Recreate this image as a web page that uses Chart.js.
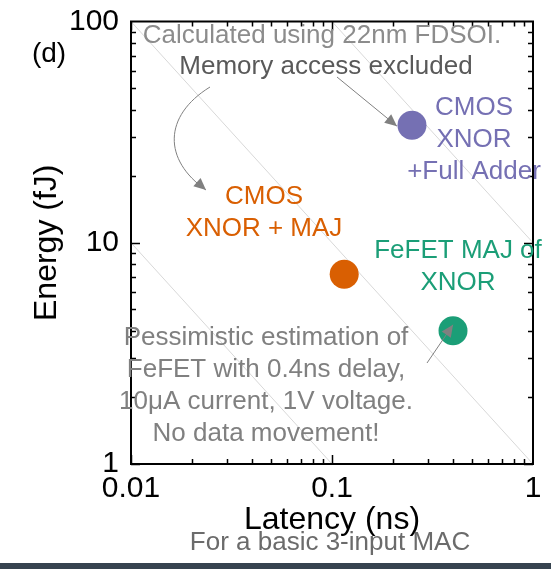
<!DOCTYPE html>
<html>
<head>
<meta charset="utf-8">
<script src="https://cdn.jsdelivr.net/npm/chart.js@4/dist/chart.umd.min.js"></script>
<style>
  html, body { margin: 0; padding: 0; background: #fff; }
  #wrap { position: relative; width: 551px; height: 569px; overflow: hidden; background: #fff; }
  #bar { position: absolute; left: 0; right: 0; bottom: 0; height: 6px; background: #36434f; }
</style>
</head>
<body>
<div id="wrap">
  <canvas id="c" width="551" height="569"></canvas>
  <div id="bar"></div>
</div>
<script>
// Latency / energy of a basic 3-input MAC for each design
const designNames = ['CMOS XNOR +Full Adder', 'CMOS XNOR + MAJ', 'FeFET MAJ of XNOR'];
const latencyNs = [0.25, 0.115, 0.4];
const energyFJ = [34, 7.2, 4.0];
const designColors = ['#7570b3', '#d95f02', '#1b9e77'];

// Axis ticks
const xTickValues = [0.01, 0.1, 1];
const xTickLabels = ['0.01', '0.1', '1'];
const yTickValues = [1, 10, 100];
const yTickLabels = ['1', '10', '100'];

// Constant energy-delay-product guide lines (endpoints)
const guideLatency = [[0.01, 0.1], [0.01, 1], [0.1, 1]];
const guideEnergy = [[10, 1], [100, 1], [100, 10]];

const FONT = "'Liberation Sans', Arial, Helvetica, sans-serif";

const guideSets = guideLatency.map((xs, i) => ({
  type: 'line',
  data: xs.map((x, j) => ({ x: x, y: guideEnergy[i][j] })),
  borderColor: '#d8d8d8',
  borderWidth: 1,
  pointRadius: 0,
  showLine: true,
  order: 2
}));

const pointSet = {
  type: 'scatter',
  label: 'designs',
  data: latencyNs.map((x, i) => ({ x: x, y: energyFJ[i] })),
  pointRadius: 14.5,
  pointHoverRadius: 14.5,
  pointBackgroundColor: designColors,
  pointBorderWidth: 0,
  borderWidth: 0,
  order: 1
};

// Text blocks and arrows drawn on top of the plot
const textBlocks = [
  { lines: ['Calculated using 22nm FDSOI.'], x: 322, y: 43, color: '#8c8c8c', size: 26 },
  { lines: ['Memory access excluded'], x: 326, y: 74, color: '#595959', size: 26 },
  { lines: ['CMOS', 'XNOR', '+Full Adder'], x: 474, y: 115, color: '#7570b3', size: 26 },
  { lines: ['CMOS', 'XNOR + MAJ'], x: 264, y: 204, color: '#d95f02', size: 26 },
  { lines: ['FeFET MAJ of', 'XNOR'], x: 458, y: 258, color: '#1b9e77', size: 26 },
  { lines: ['Pessimistic estimation of', 'FeFET with 0.4ns delay,', '10\u03bcA current, 1V voltage.', 'No data movement!'], x: 266, y: 345, color: '#808080', size: 26 },
  { lines: ['(d)'], x: 49, y: 62, color: '#000', size: 28 },
  { lines: ['For a basic 3-input MAC'], x: 330, y: 550, color: '#6b6b6b', size: 26 }
];

function arrowHead(ctx, tipX, tipY, fromX, fromY) {
  const a = Math.atan2(tipY - fromY, tipX - fromX);
  const len = 12, half = 5.5;
  ctx.beginPath();
  ctx.moveTo(tipX, tipY);
  ctx.lineTo(tipX - len * Math.cos(a) + half * Math.sin(a), tipY - len * Math.sin(a) - half * Math.cos(a));
  ctx.lineTo(tipX - len * Math.cos(a) - half * Math.sin(a), tipY - len * Math.sin(a) + half * Math.cos(a));
  ctx.closePath();
  ctx.fill();
}

const decorate = {
  id: 'decorate',
  afterDatasetsDraw(chart) {
    const { ctx, chartArea: ca, scales } = chart;
    const xs = scales.x, ys = scales.y;
    ctx.save();

    // inward ticks on all four sides
    ctx.strokeStyle = '#000';
    ctx.lineWidth = 1.5;
    ctx.beginPath();
    for (let d = -2; d < 0; d++) {
      for (let k = 1; k <= 9; k++) {
        const v = k * Math.pow(10, d);
        const px = Math.round(xs.getPixelForValue(v)) + 0.5;
        const L = k === 1 ? 9 : 5;
        ctx.moveTo(px, ca.bottom); ctx.lineTo(px, ca.bottom - L);
        ctx.moveTo(px, ca.top); ctx.lineTo(px, ca.top + L);
      }
    }
    for (let d = 0; d < 2; d++) {
      for (let k = 1; k <= 9; k++) {
        const v = k * Math.pow(10, d);
        const py = Math.round(ys.getPixelForValue(v)) + 0.5;
        const L = k === 1 ? 9 : 5;
        ctx.moveTo(ca.left, py); ctx.lineTo(ca.left + L, py);
        ctx.moveTo(ca.right, py); ctx.lineTo(ca.right - L, py);
      }
    }
    ctx.stroke();

    // frame
    ctx.lineWidth = 2;
    ctx.strokeRect(ca.left, ca.top, ca.right - ca.left, ca.bottom - ca.top);

    // text
    ctx.textAlign = 'center';
    ctx.textBaseline = 'alphabetic';
    textBlocks.forEach(b => {
      ctx.fillStyle = b.color;
      ctx.font = b.size + 'px ' + FONT;
      b.lines.forEach((s, i) => ctx.fillText(s, b.x, b.y + i * 32));
    });

    // arrows
    ctx.strokeStyle = '#808080';
    ctx.fillStyle = '#808080';
    ctx.lineWidth = 1;

    const pP = { x: xs.getPixelForValue(latencyNs[0]), y: ys.getPixelForValue(energyFJ[0]) };
    const pG = { x: xs.getPixelForValue(latencyNs[2]), y: ys.getPixelForValue(energyFJ[2]) };

    // text -> CMOS XNOR + Full Adder
    const s1 = { x: 337, y: 77 }, t1 = { x: pP.x - 15, y: pP.y + 1 };
    ctx.beginPath(); ctx.moveTo(s1.x, s1.y); ctx.lineTo(t1.x, t1.y); ctx.stroke();
    arrowHead(ctx, t1.x, t1.y, s1.x, s1.y);

    // curved arrow -> CMOS XNOR + MAJ label
    ctx.beginPath();
    ctx.moveTo(210, 87);
    ctx.bezierCurveTo(163, 116, 163, 160, 206, 190);
    ctx.stroke();
    arrowHead(ctx, 206, 190, 190, 176);

    // FeFET note -> FeFET point
    const s3 = { x: 427, y: 363 }, t3 = { x: pG.x, y: pG.y - 6 };
    ctx.beginPath(); ctx.moveTo(s3.x, s3.y); ctx.lineTo(t3.x, t3.y); ctx.stroke();
    arrowHead(ctx, t3.x, t3.y, s3.x, s3.y);

    ctx.restore();
  }
};

new Chart(document.getElementById('c'), {
  type: 'scatter',
  data: { datasets: [...guideSets, pointSet] },
  options: {
    responsive: false,
    animation: false,
    devicePixelRatio: 1,
    layout: { padding: { left: 0, right: 18, top: 21.5, bottom: 0 } },
    plugins: { legend: { display: false }, tooltip: { enabled: false } },
    scales: {
      x: {
        type: 'logarithmic',
        min: 0.01, max: 1,
        afterBuildTicks: s => { s.ticks = xTickValues.map(v => ({ value: v })); },
        afterFit: s => { s.height = 105; s.paddingLeft = 0; s.paddingRight = 0; s.paddingTop = 0; s.paddingBottom = 0; },
        ticks: {
          color: '#000',
          font: { family: FONT, size: 30 },
          padding: 7,
          maxRotation: 0,
          autoSkip: false,
          callback: (v) => xTickLabels[xTickValues.indexOf(v)]
        },
        grid: { display: false, drawTicks: false },
        border: { display: false },
        title: {
          display: true, text: 'Latency (ns)', color: '#000',
          font: { family: FONT, size: 32 },
          padding: { top: 0, bottom: 30 }
        }
      },
      y: {
        type: 'logarithmic',
        min: 1, max: 100,
        afterBuildTicks: s => { s.ticks = yTickValues.map(v => ({ value: v })); },
        afterFit: s => { s.width = 131; s.paddingTop = 0; s.paddingBottom = 0; s.paddingLeft = 0; s.paddingRight = 0; },
        ticks: {
          color: '#000',
          font: { family: FONT, size: 30 },
          padding: 12,
          autoSkip: false,
          callback: (v) => yTickLabels[yTickValues.indexOf(v)]
        },
        grid: { display: false, drawTicks: false },
        border: { display: false },
        title: {
          display: true, text: 'Energy (fJ)', color: '#000',
          font: { family: FONT, size: 32 },
          padding: { top: 28, bottom: 0 }
        }
      }
    }
  },
  plugins: [decorate]
});
</script>
</body>
</html>
